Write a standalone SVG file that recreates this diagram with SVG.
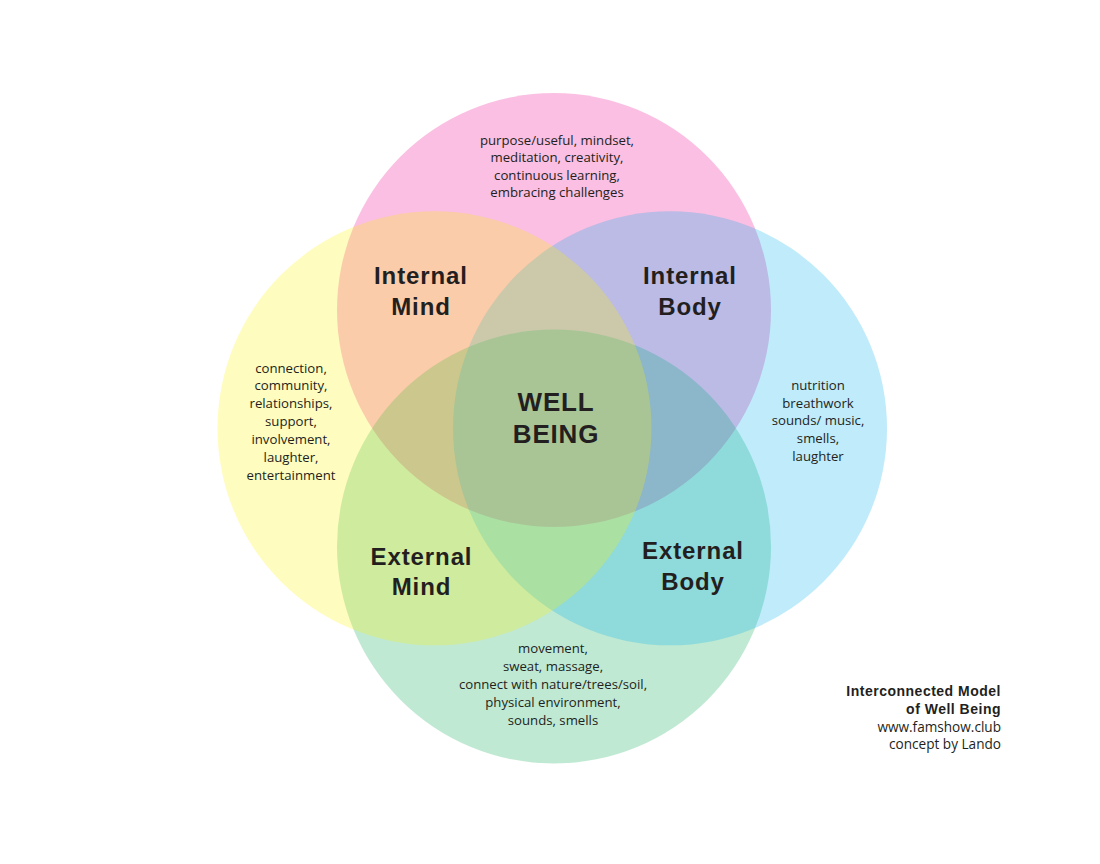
<svg xmlns="http://www.w3.org/2000/svg" width="1100" height="864" viewBox="0 0 1100 864">
<style>
.c{fill-opacity:0.25;stroke:none}
.body{font-family:"Open Sans","Noto Sans",sans-serif;font-size:13.2px;fill:#231f20;text-anchor:middle}
.lbl{font-family:"Liberation Sans",Arial,sans-serif;font-weight:bold;font-size:24px;fill:#231f20;text-anchor:middle;letter-spacing:0.9px}
.wb{font-family:"Liberation Sans",Arial,sans-serif;font-weight:bold;font-size:26px;fill:#231f20;text-anchor:middle;letter-spacing:0.8px}
.cr{font-family:"Open Sans","Noto Sans",sans-serif;font-size:13.6px;fill:#231f20;text-anchor:end}
.crb{font-family:"Liberation Sans",Arial,sans-serif;font-weight:bold;font-size:14px;fill:#231f20;text-anchor:end;letter-spacing:0.5px}
</style>
<rect width="1100" height="864" fill="#ffffff"/>
<g id="circles">
<circle id="pink" class="c" cx="554" cy="310" r="217" fill="#ec008c"/>
<circle id="green" class="c" cx="554" cy="546.5" r="217" fill="#00a651"/>
<circle id="blue" class="c" cx="670" cy="428.3" r="217" fill="#00aeef"/>
<circle id="yellow" class="c" cx="434.5" cy="428.3" r="217" fill="#fff200"/>
</g>
<g id="connectors"></g>
<g id="node-top">
<text class="body" x="557" y="144.5">purpose/useful, mindset,</text>
<text class="body" x="557" y="162">meditation, creativity,</text>
<text class="body" x="557" y="179.5">continuous learning,</text>
<text class="body" x="557" y="197">embracing challenges</text>
</g>
<g id="node-left">
<text class="body" x="291" y="372.5">connection,</text>
<text class="body" x="291" y="390.4">community,</text>
<text class="body" x="291" y="408.3">relationships,</text>
<text class="body" x="291" y="426.2">support,</text>
<text class="body" x="291" y="444.1">involvement,</text>
<text class="body" x="291" y="462">laughter,</text>
<text class="body" x="291" y="479.9">entertainment</text>
</g>
<g id="node-right">
<text class="body" x="818" y="390">nutrition</text>
<text class="body" x="818" y="407.7">breathwork</text>
<text class="body" x="818" y="425.4">sounds/ music,</text>
<text class="body" x="818" y="443.1">smells,</text>
<text class="body" x="818" y="460.8">laughter</text>
</g>
<g id="node-bottom">
<text class="body" x="553" y="653.3">movement,</text>
<text class="body" x="553" y="671.2">sweat, massage,</text>
<text class="body" x="553" y="689">connect with nature/trees/soil,</text>
<text class="body" x="553" y="706.9">physical environment,</text>
<text class="body" x="553" y="724.7">sounds, smells</text>
</g>
<g id="internal-mind">
<text class="lbl" x="421" y="284">Internal</text>
<text class="lbl" x="421" y="315">Mind</text>
</g>
<g id="internal-body">
<text class="lbl" x="690" y="284">Internal</text>
<text class="lbl" x="690" y="315">Body</text>
</g>
<g id="well-being">
<text class="wb" x="556" y="411">WELL</text>
<text class="wb" x="556" y="443">BEING</text>
</g>
<g id="external-mind">
<text class="lbl" x="421.5" y="565">External</text>
<text class="lbl" x="421.5" y="595">Mind</text>
</g>
<g id="external-body">
<text class="lbl" x="693" y="559">External</text>
<text class="lbl" x="693" y="590">Body</text>
</g>
<g id="credit">
<text class="crb" x="1001" y="695.5">Interconnected Model</text>
<text class="crb" x="1001" y="713.5">of Well Being</text>
<text class="cr" x="1001" y="731.5">www.famshow.club</text>
<text class="cr" x="1001" y="749">concept by Lando</text>
</g>
</svg>
